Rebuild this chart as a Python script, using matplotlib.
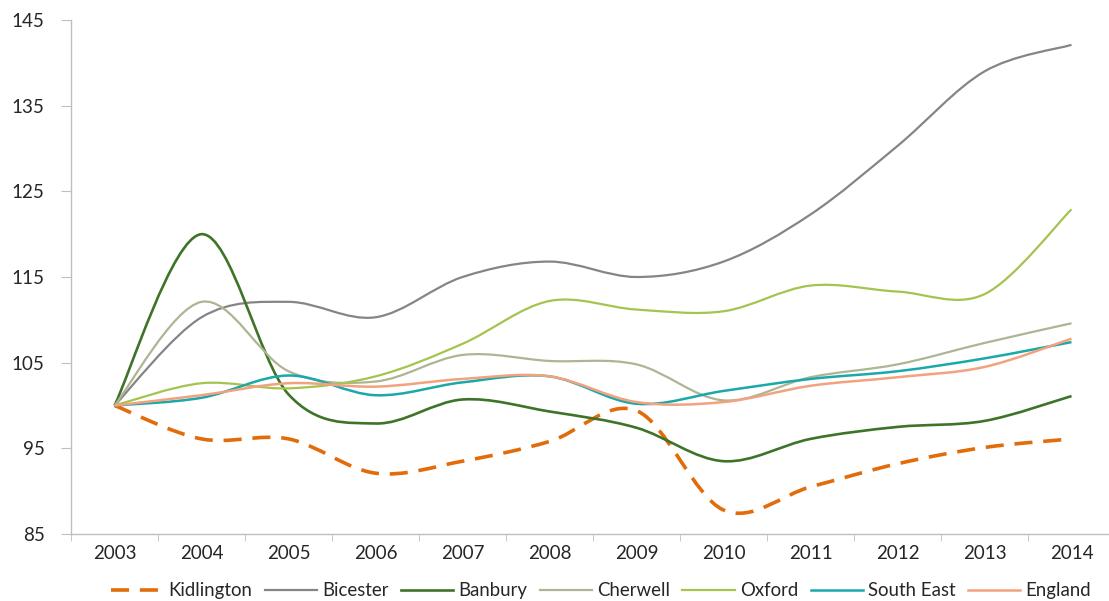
import matplotlib
matplotlib.use("Agg")
import matplotlib.pyplot as plt
from matplotlib.path import Path
from matplotlib.patches import PathPatch
from matplotlib.lines import Line2D
import numpy as np

plt.rcParams['font.family'] = ['Lato', 'DejaVu Sans']

years = ["2003", "2004", "2005", "2006", "2007", "2008",
         "2009", "2010", "2011", "2012", "2013", "2014"]

kidlington = [100, 96.1, 96.1, 92.1, 93.5, 95.8, 99.4, 87.8, 90.5, 93.2, 95.1, 96.1]
bicester = [100, 110.3, 112.1, 110.3, 115.0, 116.8, 115.0, 116.8, 122.3, 130.3, 139.0, 142.1]
banbury = [100, 120.0, 101.3, 97.9, 100.7, 99.3, 97.4, 93.5, 96.1, 97.5, 98.2, 101.1]
cherwell = [100, 112.1, 104.0, 102.8, 105.9, 105.2, 104.8, 100.6, 103.3, 104.8, 107.3, 109.6]
oxford = [100, 102.6, 102.0, 103.4, 107.2, 112.2, 111.2, 111.0, 114.0, 113.3, 113.0, 122.9]
south_east = [100, 100.9, 103.5, 101.2, 102.7, 103.4, 100.2, 101.7, 103.1, 104.0, 105.5, 107.4]
england = [100, 101.2, 102.6, 102.2, 103.1, 103.4, 100.4, 100.4, 102.3, 103.3, 104.5, 107.8]

series = [
    ("Kidlington", kidlington, "#e36c0a", 2.6, (0, (5, 3.0))),
    ("Bicester", bicester, "#858585", 1.6, "-"),
    ("Banbury", banbury, "#3e7428", 1.9, "-"),
    ("Cherwell", cherwell, "#adb594", 1.6, "-"),
    ("Oxford", oxford, "#a4c34f", 1.6, "-"),
    ("South East", south_east, "#1aa8aa", 1.8, "-"),
    ("England", england, "#f2a27e", 1.8, "-"),
]


def smooth_path(xs, ys):
    # Excel style smoothed line: cubic bezier through every point
    pts = np.column_stack([xs, ys]).astype(float)
    n = len(pts)
    verts = [pts[0]]
    codes = [Path.MOVETO]
    for i in range(n - 1):
        p0 = pts[i - 1] if i > 0 else pts[i]
        p1 = pts[i]
        p2 = pts[i + 1]
        p3 = pts[i + 2] if i + 2 < n else pts[i + 1]
        c1 = p1 + (p2 - p0) / 6.0
        c2 = p2 - (p3 - p1) / 6.0
        verts += [c1, c2, p2]
        codes += [Path.CURVE4] * 3
    return Path(verts, codes)


fig = plt.figure(figsize=(11.09, 6.01), dpi=100)
ax = fig.add_axes([71 / 1109, 1 - 534 / 601, 1044 / 1109, 514 / 601])

x = np.arange(len(years))
handles = []
for name, vals, color, lw, ls in series:
    patch = PathPatch(smooth_path(x, vals), fill=False, edgecolor=color,
                      linewidth=lw, linestyle=ls, capstyle="butt")
    ax.add_patch(patch)
    handles.append(Line2D([], [], color=color, lw=lw, linestyle=ls))

ax.set_xlim(-0.5, len(years) - 0.5)
ax.set_ylim(85, 145)
ax.set_yticks(np.arange(85, 146, 10))
ax.set_xticks(x)
ax.set_xticklabels(years)
ax.set_xticks(np.arange(-0.5, len(years), 1), minor=True)
ax.tick_params(axis="x", which="major", length=0, pad=8, labelsize=13.5, colors="#262626")
ax.tick_params(axis="x", which="minor", length=5, color="#bfbfbf")
ax.tick_params(axis="y", length=7, color="#bfbfbf", pad=12, labelsize=13.5, labelcolor="#262626")

for side in ["top", "right"]:
    ax.spines[side].set_visible(False)
for side in ["left", "bottom"]:
    ax.spines[side].set_color("#bfbfbf")
    ax.spines[side].set_linewidth(1.0)

fig.legend(handles, [s[0] for s in series], loc="center",
           bbox_to_anchor=(0.542, 0.017), ncol=7, frameon=False,
           fontsize=13.4, handlelength=2.8, handletextpad=0.3,
           columnspacing=0.65, labelcolor="#262626")

fig.savefig("out.png", dpi=100)
